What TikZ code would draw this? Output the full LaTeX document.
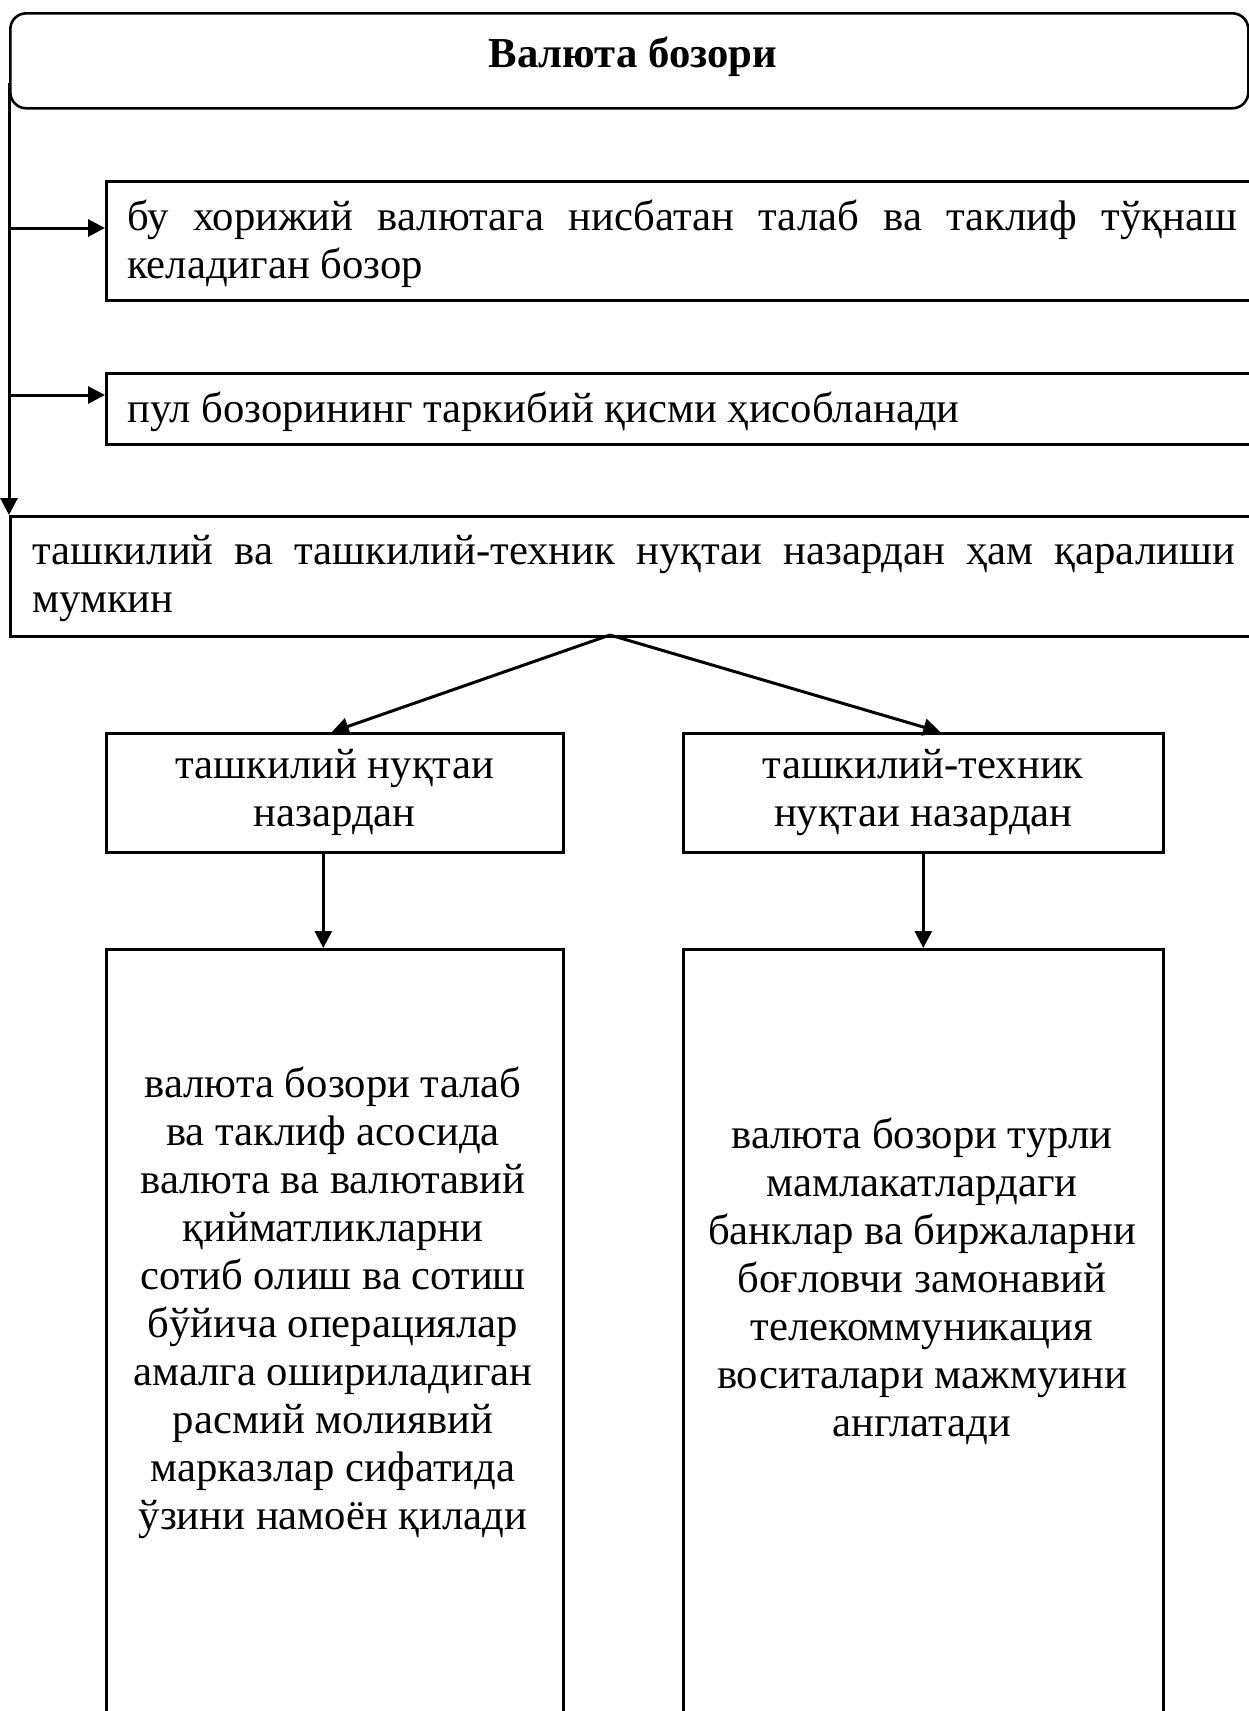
\documentclass[tikz,border=0pt]{standalone}
\usepackage{fontspec}
\setmainfont{Liberation Serif}
\usetikzlibrary{arrows.meta}
\begin{document}
\begin{tikzpicture}[x=1pt,y=-1pt,
  box/.style={draw, line width=2.6pt, inner sep=0pt, anchor=north west},
  txt/.style={font=\fontsize{42.7}{48}\selectfont, inner sep=0pt},
  conn/.style={line width=3pt, -{Triangle[length=17pt,width=17pt]}}
]
\useasboundingbox (0,0) rectangle (1249,1711);
\clip (0,0) rectangle (1249,1711);
% boxes
\node[box, rounded corners=16pt, minimum width=1238pt, minimum height=95pt] (title) at (9,12) {};
\node[box, minimum width=1170pt, minimum height=119pt] (b1) at (105,180) {};
\node[box, minimum width=1170pt, minimum height=71pt] (b2) at (105,372) {};
\node[box, minimum width=1270pt, minimum height=120pt] (b3) at (9,515) {};
\node[box, minimum width=457pt, minimum height=119pt, align=center, font=\fontsize{42.7}{48}\selectfont] (b4) at (105,732) {ташкилий нуқтаи\\назардан};
\node[box, minimum width=480pt, minimum height=119pt, align=center, font=\fontsize{42.7}{48}\selectfont] (b5) at (682,732) {ташкилий-техник\\нуқтаи назардан};
\node[box, minimum width=457pt, minimum height=800pt] (b6) at (105,948) {};
\node[box, minimum width=480pt, minimum height=800pt] (b7) at (682,948) {};
% texts
\node[txt, font=\fontsize{42.7}{48}\selectfont\bfseries] (tt) at (633,57) {Валюта бозори};
\node[txt, anchor=west, align=left] (t1) at (127,244) {\makebox[1110pt][s]{бу хорижий валютага нисбатан талаб ва таклиф тўқнаш}\\келадиган бозор};
\node[txt, anchor=base west] (t2) at (127,422) {пул бозорининг таркибий қисми ҳисобланади};
\node[txt, anchor=west, align=left] (t3) at (32,578) {\makebox[1203pt][s]{ташкилий ва ташкилий-техник нуқтаи назардан ҳам қаралиши}\\мумкин};
\node[txt, align=center] (t6) at (333,1303) {валюта бозори талаб\\ва таклиф асосида\\валюта ва валютавий\\қийматликларни\\сотиб олиш ва сотиш\\бўйича операциялар\\амалга ошириладиган\\расмий молиявий\\марказлар сифатида\\ўзини намоён қилади};
\node[txt, align=center] (t7) at (922,1281) {валюта бозори турли\\мамлакатлардаги\\банклар ва биржаларни\\боғловчи замонавий\\телекоммуникация\\воситалари мажмуини\\англатади};
% connectors
\coordinate (ls) at (9,83);
\coordinate (j1) at (9,228);
\coordinate (j2) at (9,395);
\coordinate (apex) at (610,635);
\draw[conn] (ls) -- (b3.north west);
\draw[conn] (j1) -- (j1 -| b1.west);
\draw[conn] (j2) -- (j2 -| b2.west);
\draw[conn] (apex) -- ([xshift=-3pt]b4.north);
\draw[conn] (apex) -- ([xshift=17pt]b5.north);
\draw[conn] ([xshift=-11.5pt]b4.south) -- ([xshift=-11.5pt]b6.north);
\draw[conn] (b5.south) -- (b7.north);
\end{tikzpicture}
\end{document}
